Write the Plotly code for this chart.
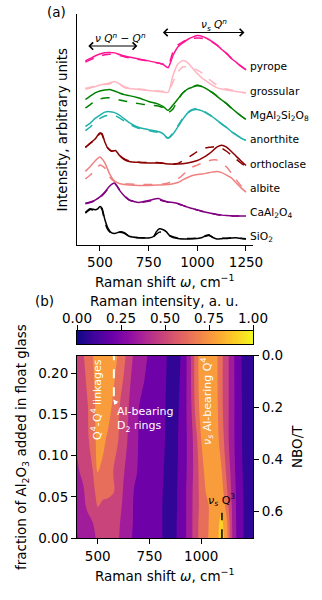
import plotly.graph_objects as go

FONT = "DejaVu Sans"
W, H = 322, 600

# ---------------- Panel (a): Raman spectra (baseline-relative intensities) ----------------
w_a = [425, 450, 475, 500, 525, 550, 575, 600, 625, 650, 700, 750, 800, 825, 850,
       875, 900, 925, 950, 975, 1000, 1025, 1050, 1075, 1100, 1125, 1150, 1175, 1200, 1225, 1250]
w_b = [425, 450, 475, 490, 500, 510, 525, 540, 560, 580, 600, 625, 650, 700, 750, 775, 790, 805,
       825, 840, 860, 900, 950, 1000, 1025, 1045, 1060, 1075, 1100, 1125, 1150, 1175, 1200, 1225, 1250]

pyrope_exp = [0.25, 0.35, 0.45, 0.53, 0.58, 0.60, 0.58, 0.51, 0.45, 0.41, 0.33, 0.25, 0.16, 0.10, -0.03,
              0.47, 0.82, 0.99, 1.13, 1.23, 1.29, 1.26, 1.17, 1.05, 0.91, 0.72, 0.56, 0.35, 0.19, 0.02, -0.12]
pyrope_sim = [0.20, 0.29, 0.38, 0.45, 0.50, 0.52, 0.51, 0.47, 0.42, 0.38, 0.31, 0.24, 0.16, 0.11, 0.06,
              0.62, 0.90, 1.03, 1.13, 1.17, 1.19, 1.18, 1.12, 1.03, 0.90, 0.73, 0.56, 0.36, 0.19, 0.03, -0.11]
grossular_exp = [0.08, 0.13, 0.19, 0.26, 0.30, 0.34, 0.40, 0.30, 0.15, 0.11, 0.07, 0.03, -0.01, -0.03, -0.05,
                 0.65, 1.12, 1.26, 1.18, 0.95, 0.73, 0.54, 0.40, 0.26, 0.15, 0.09, 0.05, 0.02, -0.01, -0.04, -0.07]
grossular_sim = [0.12, 0.17, 0.21, 0.26, 0.28, 0.30, 0.38, 0.30, 0.19, 0.14, 0.09, 0.05, 0.01, 0.00, -0.01,
                 0.38, 0.79, 1.00, 1.00, 0.95, 0.87, 0.75, 0.56, 0.40, 0.26, 0.15, 0.09, 0.05, 0.01, -0.03, -0.07]
mgal2si2o8_exp = [0.66, 0.80, 0.93, 1.01, 1.05, 1.07, 1.01, 0.93, 0.86, 0.82, 0.72, 0.58, 0.47, 0.37, 0.21,
                  0.43, 0.68, 0.93, 1.09, 1.17, 1.26, 1.19, 1.09, 0.95, 0.80, 0.64, 0.49, 0.31, 0.14, -0.02, -0.16]
mgal2si2o8_sim = [0.31, 0.45, 0.60, 0.68, 0.72, 0.73, 0.70, 0.64, 0.60, 0.56, 0.49, 0.43, 0.39, 0.31, 0.12,
                  0.27, 0.64, 0.93, 1.09, 1.17, 1.23, 1.19, 1.09, 0.96, 0.81, 0.65, 0.49, 0.31, 0.14, -0.02, -0.16]
anorthite_exp = [0.55, 0.69, 0.88, 1.02, 1.14, 1.16, 1.12, 1.02, 0.86, 0.71, 0.51, 0.42, 0.34, 0.24, 0.06,
                 0.24, 0.53, 0.84, 1.10, 1.23, 1.25, 1.19, 1.08, 0.96, 0.81, 0.65, 0.51, 0.34, 0.20, 0.07, -0.03]
anorthite_sim = [0.38, 0.53, 0.73, 0.88, 0.98, 1.02, 1.00, 0.90, 0.77, 0.65, 0.47, 0.38, 0.30, 0.20, 0.07,
                 0.28, 0.57, 0.88, 1.12, 1.25, 1.29, 1.21, 1.10, 0.97, 0.82, 0.66, 0.51, 0.34, 0.20, 0.07, -0.03]
albite_exp = [0.70, 0.90, 1.13, 1.29, 1.05, 0.59, 0.30, 0.20, 0.16, 0.14, 0.12, 0.12, 0.14, 0.15, 0.16,
              0.19, 0.24, 0.35, 0.45, 0.53, 0.57, 0.59, 0.63, 0.67, 0.70, 0.65, 0.55, 0.43, 0.22, 0.02, -0.15]
albite_sim = [0.39, 0.55, 0.76, 0.96, 0.84, 0.47, 0.28, 0.22, 0.20, 0.18, 0.16, 0.16, 0.16, 0.18, 0.22,
              0.30, 0.39, 0.55, 0.74, 0.88, 0.96, 1.05, 1.11, 1.17, 1.17, 1.07, 0.88, 0.63, 0.35, 0.10, -0.11]
caal2o4_exp = [0.39, 0.44, 0.52, 0.65, 0.85, 1.10, 1.22, 0.93, 0.69, 0.52, 0.42, 0.50, 0.58, 0.50, 0.44,
               0.42, 0.38, 0.30, 0.23, 0.17, 0.11, 0.05, 0.01, -0.03, -0.07, -0.10, -0.12, -0.13, -0.14, -0.14, -0.14]
caal2o4_sim = [0.37, 0.42, 0.50, 0.62, 0.82, 1.07, 1.20, 0.95, 0.70, 0.53, 0.42, 0.47, 0.53, 0.48, 0.43,
               0.41, 0.37, 0.30, 0.23, 0.17, 0.11, 0.06, 0.01, -0.03, -0.07, -0.10, -0.12, -0.13, -0.14, -0.14, -0.14]
orthoclase_exp = [0.70, 0.87, 1.03, 1.20, 1.28, 1.26, 0.91, 0.66, 0.53, 0.56, 0.36, 0.19, 0.11, 0.07, 0.05, 0.05, 0.05, 0.05,
                  0.03, 0.01, 0.00, 0.00, 0.05, 0.15, 0.25, 0.34, 0.42, 0.52, 0.70, 0.78, 0.70, 0.52, 0.32, 0.13, -0.06]
orthoclase_sim = [0.68, 0.85, 1.00, 1.17, 1.26, 1.22, 0.90, 0.66, 0.54, 0.55, 0.37, 0.21, 0.13, 0.08, 0.06, 0.07, 0.07, 0.06,
                  0.04, 0.03, 0.02, 0.03, 0.25, 0.52, 0.64, 0.67, 0.69, 0.70, 0.72, 0.66, 0.53, 0.37, 0.20, 0.04, -0.10]
sio2_exp = [1.01, 1.16, 1.12, 1.17, 1.26, 1.19, 0.72, 0.38, 0.17, 0.15, 0.21, 0.18, 0.03, -0.03, -0.04, 0.02, 0.22, 0.34,
            0.30, 0.22, 0.04, -0.06, -0.08, -0.06, -0.02, 0.06, 0.09, 0.00, -0.08, -0.07, -0.06, -0.04, -0.03, -0.06, -0.08]
sio2_sim = [0.98, 1.13, 1.10, 1.15, 1.23, 1.15, 0.62, 0.30, 0.15, 0.14, 0.19, 0.15, 0.03, -0.03, -0.03, 0.01, 0.12, 0.20,
            0.20, 0.16, 0.05, -0.04, -0.06, -0.05, -0.02, 0.04, 0.06, 0.01, -0.05, -0.05, -0.05, -0.04, -0.04, -0.05, -0.07]

spectra_names = ["SiO<sub>2</sub>", "CaAl<sub>2</sub>O<sub>4</sub>", "albite", "orthoclase", "anorthite",
                 "MgAl<sub>2</sub>Si<sub>2</sub>O<sub>8</sub>", "grossular", "pyrope"]
spectra_colors = ["black", "purple", "lightcoral", "darkred", "lightseagreen", "green", "lightpink", "deeppink"]
spectra = [(w_b, sio2_exp, sio2_sim), (w_a, caal2o4_exp, caal2o4_sim), (w_a, albite_exp, albite_sim),
           (w_b, orthoclase_exp, orthoclase_sim), (w_a, anorthite_exp, anorthite_sim),
           (w_a, mgal2si2o8_exp, mgal2si2o8_sim), (w_a, grossular_exp, grossular_sim), (w_a, pyrope_exp, pyrope_sim)]

# ---------------- Panel (b): Raman intensity map ----------------
hm_w = list(range(400, 1251, 25))
hm_frac = [0.0, 0.02, 0.04, 0.06, 0.08, 0.12, 0.16, 0.221]
hm_f000 = [0.27, 0.33, 0.36, 0.39, 0.44, 0.48, 0.50, 0.48, 0.43, 0.36, 0.31, 0.26, 0.24, 0.22, 0.21, 0.19, 0.16, 0.12,
           0.08, 0.12, 0.20, 0.27, 0.38, 0.52, 0.62, 0.68, 0.74, 0.80, 0.92, 0.72, 0.42, 0.24, 0.15, 0.09, 0.07]
hm_f002 = [0.30, 0.35, 0.39, 0.42, 0.47, 0.50, 0.51, 0.49, 0.44, 0.38, 0.32, 0.27, 0.24, 0.22, 0.21, 0.19, 0.16, 0.12,
           0.08, 0.12, 0.20, 0.27, 0.38, 0.52, 0.61, 0.67, 0.74, 0.81, 0.87, 0.70, 0.41, 0.24, 0.15, 0.09, 0.07]
hm_f004 = [0.33, 0.38, 0.44, 0.49, 0.57, 0.54, 0.53, 0.51, 0.46, 0.40, 0.33, 0.27, 0.24, 0.23, 0.21, 0.19, 0.16, 0.12,
           0.08, 0.11, 0.20, 0.27, 0.38, 0.51, 0.60, 0.67, 0.74, 0.80, 0.82, 0.62, 0.40, 0.23, 0.15, 0.09, 0.07]
hm_f006 = [0.37, 0.40, 0.46, 0.52, 0.62, 0.60, 0.60, 0.58, 0.50, 0.41, 0.34, 0.28, 0.25, 0.23, 0.22, 0.20, 0.17, 0.12,
           0.08, 0.11, 0.20, 0.27, 0.38, 0.50, 0.62, 0.72, 0.78, 0.81, 0.74, 0.56, 0.38, 0.23, 0.145, 0.09, 0.07]
hm_f008 = [0.40, 0.44, 0.49, 0.55, 0.70, 0.66, 0.62, 0.56, 0.50, 0.43, 0.36, 0.31, 0.26, 0.24, 0.22, 0.20, 0.17, 0.13,
           0.08, 0.10, 0.19, 0.26, 0.37, 0.49, 0.64, 0.75, 0.79, 0.80, 0.70, 0.52, 0.36, 0.22, 0.14, 0.08, 0.07]
hm_f012 = [0.44, 0.48, 0.53, 0.64, 0.74, 0.74, 0.67, 0.63, 0.56, 0.48, 0.40, 0.33, 0.27, 0.25, 0.23, 0.20, 0.17, 0.14,
           0.09, 0.10, 0.18, 0.26, 0.36, 0.52, 0.70, 0.78, 0.80, 0.75, 0.62, 0.46, 0.33, 0.21, 0.13, 0.08, 0.07]
hm_f016 = [0.48, 0.51, 0.55, 0.64, 0.76, 0.79, 0.77, 0.67, 0.58, 0.50, 0.42, 0.35, 0.28, 0.25, 0.23, 0.20, 0.17, 0.145,
           0.10, 0.10, 0.16, 0.26, 0.40, 0.62, 0.76, 0.79, 0.79, 0.73, 0.58, 0.46, 0.33, 0.21, 0.13, 0.08, 0.07]
hm_f022 = [0.50, 0.53, 0.62, 0.69, 0.78, 0.80, 0.80, 0.78, 0.68, 0.60, 0.50, 0.40, 0.36, 0.31, 0.26, 0.22, 0.19, 0.16,
           0.10, 0.10, 0.14, 0.25, 0.42, 0.64, 0.78, 0.80, 0.79, 0.72, 0.58, 0.46, 0.33, 0.20, 0.12, 0.08, 0.07]
hm_z = [hm_f000, hm_f002, hm_f004, hm_f006, hm_f008, hm_f012, hm_f016, hm_f022]

frac_ticks = [0.0, 0.05, 0.10, 0.15, 0.20]
nbo_ticks = [0.0, 0.2, 0.4, 0.6]
nbo_range = [0.705, 0.0]
cb_ticks = [0.0, 0.25, 0.5, 0.75, 1.0]

plasma = ["#0d0887", "#41049d", "#6a00a8", "#8f0da4", "#b12a90", "#cc4778",
          "#e16462", "#f2844b", "#fca636", "#fcce25", "#f0f921"]
plasma_scale = [[i / 10, c] for i, c in enumerate(plasma)]


def sample_plasma(v):
    v = min(max(v, 0.0), 1.0) * 10
    i = min(int(v), 9)
    t = v - i
    a = plasma[i]; b = plasma[i + 1]
    ca = [int(a[k:k + 2], 16) for k in (1, 3, 5)]
    cb = [int(b[k:k + 2], 16) for k in (1, 3, 5)]
    c = [round(ca[k] + (cb[k] - ca[k]) * t) for k in range(3)]
    return "rgb(%d,%d,%d)" % tuple(c)


band_mids = [0.07, 0.21, 0.35, 0.49, 0.63, 0.77, 0.91]
band_scale = [[k / 6, sample_plasma(m)] for k, m in enumerate(band_mids)]

cb_levels = [i / 200 for i in range(201)]

fig = go.Figure()

for i, (name, col, (ww, e, s)) in enumerate(zip(spectra_names, spectra_colors, spectra)):
    fig.add_trace(go.Scatter(x=ww, y=[v + i for v in s], mode="lines",
                             line=dict(color=col, width=1.5, dash="dash", shape="spline", smoothing=0.6),
                             xaxis="x", yaxis="y", showlegend=False, hoverinfo="skip"))
    fig.add_trace(go.Scatter(x=ww, y=[v + i for v in e], mode="lines",
                             line=dict(color=col, width=1.5, shape="spline", smoothing=0.6),
                             xaxis="x", yaxis="y", showlegend=False, hoverinfo="skip"))

fig.add_trace(go.Contour(x=hm_w, y=hm_frac, z=hm_z, colorscale=band_scale, showscale=False,
                         contours=dict(start=0.14, end=0.84, size=0.14, coloring="fill", showlines=False),
                         line=dict(width=0, smoothing=1), xaxis="x2", yaxis="y2", hoverinfo="skip"))
fig.add_trace(go.Scatter(x=[], y=[], xaxis="x2", yaxis="y3", showlegend=False))
fig.add_trace(go.Heatmap(x=cb_levels, y=[0, 1], z=[cb_levels, cb_levels], colorscale=plasma_scale,
                         zmin=0, zmax=1, showscale=False, xaxis="x4", yaxis="y4", hoverinfo="skip"))

xdom = [77 / W, 253 / W]
tickfont = dict(family=FONT, size=13.5, color="black")
common = dict(showgrid=False, zeroline=False, linecolor="black", linewidth=1, tickcolor="black",
              ticklen=5, tickwidth=1, tickfont=tickfont, automargin=False, fixedrange=True)

fig.update_layout(
    width=W, height=H, margin=dict(l=0, r=0, t=0, b=0, pad=0, autoexpand=False),
    paper_bgcolor="white", plot_bgcolor="white",
    font=dict(family=FONT, size=13.5, color="black"),
    xaxis=dict(domain=xdom, range=[382, 1286], tickvals=[500, 750, 1000, 1250], showline=True,
               ticks="outside", anchor="y", **common),
    yaxis=dict(domain=[1 - 245 / H, 1 - 14 / H], range=[-0.33, 9.18], showline=True, ticks="",
               showticklabels=False, anchor="x", **common),
    xaxis2=dict(domain=xdom, range=[400, 1250], tickvals=[500, 750, 1000], showline=True, mirror=True,
                ticks="outside", anchor="y2", **common),
    yaxis2=dict(domain=[1 - 538.3 / H, 1 - 355.7 / H], range=[0, 0.221], tickvals=frac_ticks,
                tickformat=".2f", showline=True, mirror=True, ticks="outside", anchor="x2", **common),
    yaxis3=dict(overlaying="y2", side="right", anchor="x2", range=nbo_range, tickvals=nbo_ticks,
                tickformat=".1f", showline=True, ticks="outside", **common),
    xaxis4=dict(domain=xdom, range=[0, 1], side="top", tickvals=cb_ticks, tickformat=".2f",
                showline=True, mirror=True, ticks="outside", anchor="y4", ticklabelstandoff=-4, **common),
    yaxis4=dict(domain=[1 - 344.3 / H, 1 - 330.7 / H], range=[0, 1], showline=True, mirror=True,
                ticks="", showticklabels=False, anchor="x4", **common),
)

ann = []


def ptext(x, y, text, size=13.5, color="black", **kw):
    ann.append(dict(x=x / W, y=1 - y / H, xref="paper", yref="paper", text=text, showarrow=False,
                    xanchor="center", yanchor="middle",
                    font=dict(family=FONT, size=size, color=color), **kw))


ptext(56, 12, "(a)")
ptext(45, 301, "(b)")
ptext(61, 129.5, "Intensity, arbitrary units", textangle=-90)
ptext(164, 281, "Raman shift <i>ω</i>, cm<sup>−1</sup>")
ptext(164, 575, "Raman shift <i>ω</i>, cm<sup>−1</sup>")
ptext(22, 447, "fraction of Al<sub>2</sub>O<sub>3</sub> added in float glass", textangle=-90)
ptext(297, 447, "NBO/T", textangle=-90)
ptext(164, 301, "Raman intensity, a. u.")

for i, (name, col) in enumerate(zip(spectra_names, spectra_colors)):
    ann.append(dict(x=1262, y=i, xref="x", yref="y", text=name, showarrow=False, xanchor="left",
                    yanchor="middle", font=dict(family=FONT, size=10.7, color="black")))

# double-headed arrows in (a)
for (x0, x1, y) in [(440, 700, 7.86), (823, 1250, 8.42)]:
    ann.append(dict(x=x0, y=y, ax=x1, ay=y, xref="x", yref="y", axref="x", ayref="y", text="",
                    showarrow=True, arrowside="end+start", arrowhead=4, startarrowhead=4,
                    arrowsize=1.3, startarrowsize=1.3, arrowwidth=1.1, arrowcolor="black"))
ann.append(dict(x=603, y=8.23, xref="x", yref="y", showarrow=False, xanchor="center", yanchor="middle",
                text="<i>ν Q<sup>n</sup></i> − <i>Q<sup>n</sup></i>", font=dict(family=FONT, size=10.5, color="black")))
ann.append(dict(x=1085, y=8.72, xref="x", yref="y", showarrow=False, xanchor="center", yanchor="middle",
                text="<i>ν<sub>s</sub> Q<sup>n</sup></i>", font=dict(family=FONT, size=10.5, color="black")))

# heatmap annotations
wf = dict(family=FONT, size=11, color="white")
ann.append(dict(x=497, y=0.1675, xref="x2", yref="y2", showarrow=False, textangle=-90,
                xanchor="center", yanchor="middle",
                text="Q<sup>4</sup>-Q<sup>4</sup> linkages", font=wf))
ann.append(dict(x=1028, y=0.165, xref="x2", yref="y2", showarrow=False, textangle=-90,
                xanchor="center", yanchor="middle",
                text="<i>ν<sub>s</sub></i> Al-bearing Q<sup>4</sup>", font=wf))
ann.append(dict(x=583, y=0.1438, xref="x2", yref="y2", showarrow=False, xanchor="left", yanchor="middle",
                align="left", text="Al-bearing<br>D<sub>2</sub> rings", font=wf))
ann.append(dict(x=1096, y=0.046, xref="x2", yref="y2", showarrow=False, xanchor="center", yanchor="middle",
                text="<i>ν<sub>s</sub></i> Q<sup>3</sup>", font=dict(family=FONT, size=11, color="black")))
ann.append(dict(x=575, y=0.168, ax=597, ay=0.161, xref="x2", yref="y2", axref="x2", ayref="y2", text="",
                showarrow=True, arrowhead=2, arrowsize=1, arrowwidth=1, arrowcolor="white"))

fig.update_layout(annotations=ann, shapes=[
    dict(type="line", xref="x2", yref="y2", x0=578, x1=578, y0=0.172, y1=0.221,
         line=dict(color="white", width=2, dash="dash")),
    dict(type="line", xref="x2", yref="y2", x0=1100, x1=1100, y0=0.0, y1=0.031,
         line=dict(color="black", width=1.5, dash="dash")),
])

fig.write_html("out.html", config={"displayModeBar": False, "staticPlot": True},
               post_script="document.body.style.margin='0';document.body.style.overflow='hidden';")
